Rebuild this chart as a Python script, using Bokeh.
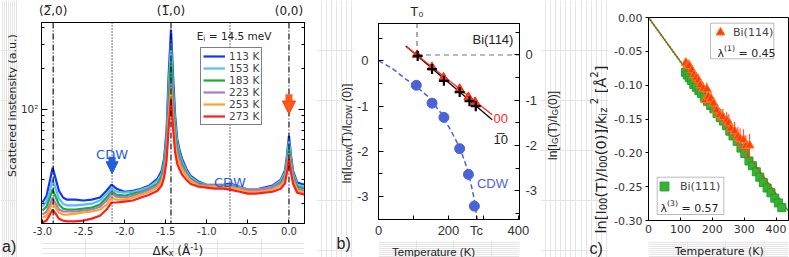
import math
from bokeh.plotting import figure
from bokeh.layouts import row, column
from bokeh.models import (Range1d, LinearAxis, LogAxis, FixedTicker, Label, Legend, LegendItem,
                          Span, Arrow, NormalHead, BoxAnnotation, PrintfTickFormatter)
from bokeh.embed import file_html
from bokeh.resources import INLINE

# ---------------- data: panel a ----------------
DK = [-3.0, -2.95, -2.91, -2.876, -2.84, -2.8, -2.75, -2.7, -2.6, -2.5, -2.4, -2.3, -2.22, -2.16,
      -2.1, -2.0, -1.9, -1.8, -1.7, -1.6, -1.55, -1.52, -1.49, -1.465, -1.436, -1.41, -1.385,
      -1.36, -1.33, -1.3, -1.25, -1.2, -1.1, -1.0, -0.9, -0.8, -0.72, -0.6, -0.5, -0.4, -0.3,
      -0.2, -0.1, -0.05, -0.025, 0.0, 0.025, 0.05, 0.1, 0.19]
I_113 = [20.4, 22.9, 29.6, 36.8, 30.6, 24.9, 22.2, 21.4, 21.4, 21.1, 21.4, 22.2, 24.9, 27.6,
         25.8, 24.5, 24.9, 25.8, 27.2, 30.6, 35.0, 42.9, 68.9, 174.8, 387.5, 174.8, 88.8,
         60.2, 49.1, 42.9, 36.2, 32.2, 29.1, 27.6, 27.6, 27.6, 28.1, 26.7, 25.4, 25.4, 26.3,
         27.2, 30.1, 35.0, 45.1, 63.3, 45.1, 35.0, 28.6, 27.6]
I_153 = [19.0, 20.7, 24.9, 30.1, 25.8, 21.8, 20.0, 19.4, 19.4, 19.7, 20.0, 21.1, 23.7, 25.8,
         24.5, 24.1, 24.5, 25.4, 26.7, 29.6, 33.3, 40.1, 61.2, 140.3, 300.6, 140.3, 78.9,
         56.2, 46.7, 40.8, 35.0, 31.6, 28.6, 27.6, 27.2, 27.2, 27.6, 26.7, 25.4, 25.4, 25.8,
         26.7, 29.6, 33.8, 42.9, 58.2, 42.9, 33.8, 27.6, 26.7]
I_183 = [17.8, 19.0, 22.2, 25.4, 22.5, 19.7, 18.4, 18.1, 18.1, 18.4, 18.7, 19.7, 22.2, 24.5,
         23.3, 22.9, 23.7, 24.5, 25.8, 28.1, 31.6, 37.5, 55.3, 114.5, 225.4, 114.5, 68.9,
         51.7, 43.6, 38.8, 33.8, 30.6, 28.1, 27.2, 27.2, 27.2, 27.2, 26.3, 24.9, 24.9, 25.4,
         26.3, 28.6, 32.2, 40.1, 50.8, 40.1, 32.2, 26.7, 25.8]
I_223 = [16.6, 17.5, 19.7, 22.2, 20.0, 18.1, 17.5, 17.5, 17.5, 17.8, 18.1, 19.0, 21.1, 23.7,
         22.5, 22.2, 22.9, 24.1, 25.4, 27.2, 30.1, 35.0, 49.1, 93.5, 169.0, 93.5, 60.2,
         47.5, 41.5, 37.5, 33.3, 30.1, 27.6, 27.2, 27.2, 27.2, 27.2, 26.3, 25.4, 25.4, 25.8,
         26.3, 28.1, 31.1, 38.1, 47.5, 38.1, 31.1, 25.8, 24.9]
I_253 = [15.8, 16.3, 18.4, 20.4, 18.7, 17.2, 16.6, 16.6, 16.9, 17.2, 17.5, 18.1, 19.7, 22.2,
         21.4, 21.4, 22.2, 23.3, 24.5, 26.3, 29.1, 33.3, 45.1, 81.6, 140.3, 81.6, 53.5,
         43.6, 38.8, 35.6, 32.2, 29.6, 27.2, 26.7, 26.7, 26.3, 26.3, 25.4, 24.5, 24.5, 24.9,
         25.4, 27.2, 29.6, 35.6, 45.1, 35.6, 29.6, 24.9, 24.1]
I_273 = [14.5, 15.0, 16.6, 18.1, 16.9, 15.5, 15.0, 14.8, 14.8, 15.0, 15.5, 16.3, 18.1, 20.4,
         20.4, 20.7, 21.1, 22.2, 23.3, 24.9, 27.2, 31.1, 41.5, 71.3, 120.5, 71.3, 47.5,
         39.4, 35.6, 32.7, 30.1, 28.1, 26.7, 26.3, 25.8, 25.8, 25.4, 24.5, 23.7, 23.7, 24.1,
         24.5, 25.8, 28.1, 33.8, 42.9, 33.8, 28.1, 24.1, 23.3]
SERIES_A = [I_113, I_153, I_183, I_223, I_253, I_273]
TEMP_LABELS = ["113 K", "153 K", "183 K", "223 K", "253 K", "273 K"]
COLORS_A = ["#1533ff", "#55bff0", "#22a83a", "#a27ccc", "#ffa226", "#ff1e1e"]
BRAGG_K = [-2.87, -1.436, 0.0]
BRAGG_LABELS = ["(2\u0305,0)", "(1\u0305,0)", "(0,0)"]
CDW_K = [-2.153, -0.718]
XTICKS_A = [-3.0, -2.5, -2.0, -1.5, -1.0, -0.5, 0.0]
YTICK_A = [100]
YMINOR_A = [20, 30, 40, 50, 60, 70, 80, 90, 200, 300, 400]

# ---------------- data: panel b ----------------
T_CDW = [108, 153, 187, 232, 257, 274]
LN_CDW = [-0.54, -0.935, -1.25, -1.94, -2.51, -3.21]
T_CDW_FIT = [0, 20, 43, 79, 110, 143, 179, 211, 234, 257, 273, 282]
LN_CDW_FIT = [0.0, -0.08, -0.19, -0.41, -0.58, -0.80, -1.16, -1.60, -1.95, -2.46, -3.03, -3.5]
T_00 = [110, 153, 186, 232, 257, 276]
LN_00 = [0.0, -0.27, -0.50, -0.75, -0.93, -1.04]
T_10 = [112, 153, 187, 232, 260, 278]
LN_10 = [-0.02, -0.31, -0.57, -0.82, -1.02, -1.13]
FIT00_T = [80, 325]
FIT00_LN = [0.18, -1.32]
FIT10_T = [78, 325]
FIT10_LN = [0.20, -1.43]
T0 = 110
TC = 280

# ---------------- data: panel c ----------------
T_111 = [116, 122, 128, 135, 142, 150, 158, 166, 175, 185, 195, 205, 215, 225, 235, 245, 255,
         265, 278, 290, 302, 315, 326, 338, 349, 360, 372, 384, 396, 407, 418]
V_111 = [-0.081, -0.085, -0.089, -0.093, -0.099, -0.103, -0.108, -0.112, -0.118, -0.124, -0.130,
         -0.135, -0.142, -0.148, -0.153, -0.160, -0.168, -0.175, -0.183, -0.193, -0.201, -0.212,
         -0.219, -0.228, -0.236, -0.244, -0.252, -0.259, -0.267, -0.274, -0.281]
T_114 = [117, 124, 128, 136, 143, 150, 157, 162, 172, 178, 183, 188, 196, 204, 214, 223, 233,
         245, 252, 258, 270, 280, 287, 298, 305, 317]
V_114 = [-0.067, -0.070, -0.0715, -0.078, -0.085, -0.089, -0.093, -0.100, -0.105, -0.122, -0.106,
         -0.117, -0.120, -0.127, -0.137, -0.144, -0.147, -0.152, -0.156, -0.164, -0.168, -0.176,
         -0.179, -0.181, -0.190, -0.189]
E_114 = [0.006, 0.007, 0.008, 0.007, 0.008, 0.008, 0.009, 0.008, 0.009, 0.009, 0.010, 0.009,
         0.010, 0.010, 0.010, 0.011, 0.012, 0.012, 0.013, 0.013, 0.014, 0.014, 0.015, 0.016,
         0.016, 0.017]
FIT111_T = [0, 437]
FIT111_V = [0.0, -0.285]
FIT114_T = [0, 402]
FIT114_V = [0.0, -0.2626]
XTICKS_C = [0, 100, 200, 300, 400]
YTICKS_C = [0.0, -0.05, -0.10, -0.15, -0.20, -0.25, -0.30]

# ---------------- geometry (window pixels) ----------------
GEOM = {
    "a": dict(L=38, R=304, T=21, B=223, x=(-3.012, 0.189), y=(14.27, 436.1), log=True),
    "b": dict(L=375, R=521, T=21, B=222, x=(0.0, 403.0), y=(-3.506, 0.825), log=False),
    "c": dict(L=648, R=788, T=17, B=220, x=(0.0, 439.0), y=(-0.30, 0.0), log=False),
}
RIGHT_B = (-3.635, 0.696)


def to_data(key, px, py):
    g = GEOM[key]
    (x0, x1), (y0, y1) = g["x"], g["y"]
    x = x0 + (px - g["L"]) / (g["R"] - g["L"]) * (x1 - x0)
    f = (g["B"] - py) / (g["B"] - g["T"])
    if g["log"]:
        y = 10 ** (math.log10(y0) + f * (math.log10(y1) - math.log10(y0)))
    else:
        y = y0 + f * (y1 - y0)
    return x, y


DJ = {' ': .318, '(': .390, ')': .390, '[': .390, ']': .390, '/': .337, '.': .318, ',': .318,
      '-': .361, '=': .838, 'A': .684, 'B': .686, 'C': .698, 'D': .770, 'E': .632, 'G': .775,
      'I': .295, 'K': .656, 'S': .635, 'T': .611, 'V': .684, 'W': .989, 'Å': .684, 'Δ': .684,
      'λ': .592, 'a': .613, 'c': .550, 'd': .635, 'e': .615, 'i': .278, 'k': .579, 'l': .278,
      'm': .974, 'n': .634, 'p': .635, 'r': .411, 's': .521, 't': .392, 'u': .634, 'x': .592,
      'y': .592, 'z': .525, '\u0305': 0.0}
AR = {' ': .278, '(': .333, ')': .333, '[': .278, ']': .278, '/': .278, '.': .278, '-': .333,
      '=': .584, 'B': .667, 'C': .722, 'D': .722, 'G': .778, 'I': .278, 'K': .667, 'T': .611,
      'W': .944, 'a': .556, 'b': .556, 'c': .5, 'e': .556, 'i': .222, 'l': .222, 'm': .833,
      'n': .556, 'p': .556, 'r': .333, 't': .278, 'u': .556, '\u0305': 0.0}


def rich(p, x, y, segs, size, font="DejaVu Sans", color="#222222", vertical=False,
         align="center", sub=0.2, sup=0.42):
    table, dflt, dig = (DJ, 0.6, 0.636) if font.startswith("DejaVu") else (AR, 0.556, 0.556)

    def fs(kind):
        return size * 0.7 if kind in ("sub", "sup") else size

    def w_of(t, k):
        return sum(table.get(c, dig if c.isdigit() else dflt) for c in t) * fs(k)

    widths = [w_of(t, k) for t, k in segs]
    total = sum(widths)
    d = {"left": 0.0, "center": -total / 2, "right": -total}[align]
    for (t, k), w in zip(segs, widths):
        body = t.strip(" ")
        lead = w_of(t[:len(t) - len(t.lstrip(" "))], k)
        shift = sub * size if k == "sub" else (-sup * size if k == "sup" else 0.0)
        dd = d + lead
        if vertical:
            xo, yo = shift, dd
        else:
            xo, yo = dd, -shift
        if body:
            p.add_layout(Label(x=x, y=y, x_offset=xo, y_offset=yo, text=body, text_font=font,
                               text_font_size=f"{fs(k):.1f}px", text_color=color,
                               text_align="left", text_baseline="alphabetic",
                               angle=math.pi / 2 if vertical else 0.0))
        d += w


def rich_px(p, key, px, py, segs, size, **kw):
    x, y = to_data(key, px, py)
    rich(p, x, y, segs, size, **kw)


def base_fig(key, width, height, borders):
    g = GEOM[key]
    p = figure(width=width, height=height, x_range=Range1d(*g["x"]), y_range=Range1d(*g["y"]),
               y_axis_type="log" if g["log"] else "linear", output_backend="svg",
               toolbar_location=None, min_border_left=borders[0], min_border_right=borders[1],
               min_border_top=borders[2], min_border_bottom=borders[3])
    p.grid.visible = False
    p.outline_line_color = "black"
    p.outline_line_alpha = 1.0
    p.outline_line_width = 1
    p.background_fill_color = "white"
    p.border_fill_color = "white"
    return p


def strip(w, h):
    # text-only strip: its frame is the whole strip, coordinates are pixels from its top-left
    s = figure(width=w, height=h, x_range=Range1d(0, w), y_range=Range1d(h, 0),
               output_backend="svg", toolbar_location=None, min_border=0,
               x_axis_location=None, y_axis_location=None)
    s.outline_line_color = None
    s.background_fill_color = "white"
    s.border_fill_color = "white"
    return s


def style_axis(ax, font, size, standoff, tin=4, tout=0, color="#333333", minor=3):
    ax.major_label_text_font = font
    ax.major_label_text_font_size = f"{size}px"
    ax.major_label_text_color = color
    ax.major_label_standoff = standoff
    ax.major_tick_in = tin
    ax.major_tick_out = tout
    ax.minor_tick_in = minor if tout == 0 else 0
    ax.minor_tick_out = 0 if tout == 0 else minor
    ax.axis_line_color = "black"
    ax.major_tick_line_color = "black"
    ax.minor_tick_line_color = "black"
    ax.axis_label = None


# ======================= panel a =======================
pa = base_fig("a", 299, 238, (21, 12, 21, 15))
ax = pa.xaxis[0]
ax.ticker = FixedTicker(ticks=XTICKS_A)
ax.formatter = PrintfTickFormatter(format="%.1f")
style_axis(ax, "DejaVu Sans", 10, 3)
ay = pa.yaxis[0]
ay.ticker = FixedTicker(ticks=YTICK_A, minor_ticks=YMINOR_A)
ay.major_label_overrides = {100: "10²"}
style_axis(ay, "DejaVu Sans", 10.5, 3, tin=6)
ar = LogAxis(ticker=FixedTicker(ticks=YTICK_A, minor_ticks=YMINOR_A))
style_axis(ar, "DejaVu Sans", 11, 2, tin=6)
ar.major_label_text_font_size = "0px"
ar.major_label_text_color = None
pa.add_layout(ar, "right")
at = LinearAxis(ticker=FixedTicker(ticks=BRAGG_K),
                major_label_overrides={k: lab for k, lab in zip(BRAGG_K, BRAGG_LABELS)})
style_axis(at, "DejaVu Sans", 12, 5, tin=0, color="#222222", minor=0)
pa.add_layout(at, "above")

renderers = []
for vals, col in zip(SERIES_A, COLORS_A):
    renderers.append(pa.line(DK, vals, line_color=col, line_width=2.2))

for k in BRAGG_K:
    pa.add_layout(Span(location=k, dimension="height", line_color="black",
                       line_dash="6 2 1 2", line_width=1.1))
for k in CDW_K:
    pa.add_layout(Span(location=k, dimension="height", line_color="black",
                       line_dash="1 2", line_width=1.1))

leg = Legend(items=[LegendItem(label=l, renderers=[r]) for l, r in zip(TEMP_LABELS, renderers)],
             location=(159, 98), label_text_font="DejaVu Sans", label_text_font_size="10.5px",
             glyph_width=22, glyph_height=12, label_height=12, label_standoff=4, spacing=0,
             padding=2, margin=0, border_line_color="black", border_line_width=1,
             background_fill_color="white", background_fill_alpha=1.0)
pa.add_layout(leg)

rich_px(pa, "a", 195, 35, [("E", "n"), ("i", "sub"), (" = 14.5 meV", "n")], 10.5, align="left")

cdw_col = "#1f5fd9"
rich(pa, CDW_K[0], to_data("a", 0, 154)[1], [("CDW", "n")], 13, color=cdw_col)
rich(pa, CDW_K[1], to_data("a", 0, 182)[1], [("CDW", "n")], 13, color=cdw_col)
pa.add_layout(Arrow(end=NormalHead(size=12, fill_color=cdw_col, line_color=cdw_col),
                    x_start=CDW_K[0], y_start=to_data("a", 0, 156)[1],
                    x_end=CDW_K[0], y_end=to_data("a", 0, 173)[1],
                    line_color=cdw_col, line_width=7))
org = "#ff5a1a"
pa.add_layout(Arrow(end=NormalHead(size=13, fill_color=org, line_color="#ff3a00"),
                    x_start=BRAGG_K[2], y_start=to_data("a", 0, 93)[1],
                    x_end=BRAGG_K[2], y_end=to_data("a", 0, 113)[1],
                    line_color=org, line_width=7))

sAL = strip(17, 257)
rich(sAL, 11.5, 105, [("Scattered instensity (a.u.)", "n")], 11, vertical=True)
rich(sAL, 1.5, 246, [("a)", "n")], 16, font="Liberation Sans", align="left")
sAB = strip(299, 19)
rich(sAB, 155, 12.5, [("ΔK", "n"), ("x", "sub"), (" (Å", "n"), ("-1", "sup"), (")", "n")], 12,
     sup=0.36)

# ======================= panel b =======================
pb = base_fig("b", 187, 240, (22, 19, 21, 18))
pb.extra_y_ranges = {"right": Range1d(*RIGHT_B)}
bx = pb.xaxis[0]
bx.ticker = FixedTicker(ticks=[0, 200, TC, 400], minor_ticks=[100, 300])
bx.formatter = PrintfTickFormatter(format="%d")
bx.major_label_overrides = {TC: "Tc"}
style_axis(bx, "Liberation Sans", 13, 3, tin=4, minor=4)
by = pb.yaxis[0]
by.ticker = FixedTicker(ticks=[0, -1, -2, -3], minor_ticks=[0.5, -0.5, -1.5, -2.5])
by.formatter = PrintfTickFormatter(format="%d")
style_axis(by, "Liberation Sans", 13, 10, tin=5, minor=4)
bry = LinearAxis(y_range_name="right",
                 ticker=FixedTicker(ticks=[0, -1, -2, -3], minor_ticks=[0.5, -0.5, -1.5, -2.5, -3.5]),
                 formatter=PrintfTickFormatter(format="%d"))
style_axis(bry, "Liberation Sans", 13, 6, tin=5, minor=4)
pb.add_layout(bry, "right")
bt = LinearAxis(ticker=FixedTicker(ticks=[T0]), major_label_overrides={T0: "T₀"})
style_axis(bt, "Liberation Sans", 13, 5, tin=0, color="#222222", minor=0)
pb.add_layout(bt, "above")

gray = "#777777"
pb.line([T0, T0], [0.0, RIGHT_B[1]], y_range_name="right", line_color=gray, line_dash="5 4", line_width=1.2)
pb.line([T0, GEOM["b"]["x"][1]], [0.0, 0.0], y_range_name="right", line_color=gray, line_dash="5 4", line_width=1.2)

blue_b = "#4a63d8"
pb.line(T_CDW_FIT, LN_CDW_FIT, line_color=blue_b, line_dash="5 3", line_width=1.5)
pb.scatter(T_CDW, LN_CDW, size=10, fill_color=blue_b, line_color=blue_b)

pb.line(FIT10_T, FIT10_LN, y_range_name="right", line_color="black", line_width=1.3)
pb.line(FIT00_T, FIT00_LN, y_range_name="right", line_color="#ff2a1a", line_width=1.3)
pb.scatter(T_00, LN_00, y_range_name="right", marker="triangle", size=9,
           fill_color="#ff3a1a", line_color="#ff2000")
pb.scatter(T_10, LN_10, y_range_name="right", marker="cross", size=10,
           line_color="black", line_width=2.2)

rich_px(pb, "b", 494, 37, [("Bi(114)", "n")], 13, font="Liberation Sans")
rich_px(pb, "b", 494, 118, [("00", "n")], 13, font="Liberation Sans", color="#ff2a1a", align="left")
rich_px(pb, "b", 494, 140, [("1\u03050", "n")], 13, font="Liberation Sans", align="left")
rich_px(pb, "b", 493, 185, [("CDW", "n")], 13, font="Liberation Sans", color=blue_b)

sBL = strip(37, 257)
rich(sBL, 30.5, 133, [("ln[I", "n"), ("CDW", "sub"), ("(T)/I", "n"), ("CDW", "sub"),
                      (" (0)]", "n")], 12, font="Liberation Sans", vertical=True)
rich(sBL, 20, 243, [("b)", "n")], 16, font="Liberation Sans", align="left")
sBB = strip(187, 17)
rich(sBB, 74, 11, [("Temperature (K)", "n")], 11.5, font="Liberation Sans")
sBR = strip(36, 257)
rich(sBR, 12, 125, [("ln[I", "n"), ("G", "sub"), ("(T)/I", "n"), ("G", "sub"),
                    ("(0)]", "n")], 12, font="Liberation Sans", vertical=True)

# ======================= panel c =======================
pc = base_fig("c", 181, 240, (40, 1, 17, 20))
cx = pc.xaxis[0]
cx.ticker = FixedTicker(ticks=XTICKS_C)
cx.formatter = PrintfTickFormatter(format="%d")
style_axis(cx, "DejaVu Sans", 11, 4, tin=3)
cy = pc.yaxis[0]
cy.ticker = FixedTicker(ticks=YTICKS_C)
cy.formatter = PrintfTickFormatter(format="%.2f")
style_axis(cy, "DejaVu Sans", 11, 3, tin=0, tout=3)

green = "#33b533"
red_c = "#ff3a1a"
pc.line(FIT111_T, FIT111_V, line_color="#22a022", line_width=1.5)
pc.segment(x0=T_111, y0=[v - 0.004 for v in V_111], x1=T_111, y1=[v + 0.004 for v in V_111],
           line_color="#22a022", line_width=1)
sq = pc.scatter(T_111, V_111, marker="square", size=8, fill_color=green, line_color="#2a9a2a")
pc.line(FIT114_T, FIT114_V, line_color="#ff2a00", line_width=2, line_dash="1 2")
pc.segment(x0=T_114, y0=[v - e for v, e in zip(V_114, E_114)], x1=T_114,
           y1=[v + e for v, e in zip(V_114, E_114)], line_color="#ff5040", line_width=1.2)
tri = pc.scatter(T_114, V_114, marker="triangle", size=9, fill_color=red_c, line_color="#ff7a10")

l1, t1 = to_data("c", 710, 22.7)
r1, b1 = to_data("c", 773.3, 58.3)
pc.add_layout(BoxAnnotation(left=l1, right=r1, top=t1, bottom=b1, fill_color="white",
                            fill_alpha=1.0, line_color="#222222", line_width=1))
l2, t2 = to_data("c", 656.7, 176.7)
r2, b2 = to_data("c", 723.3, 214)
pc.add_layout(BoxAnnotation(left=l2, right=r2, top=t2, bottom=b2, fill_color="white",
                            fill_alpha=1.0, line_color="#222222", line_width=1))
pc.add_layout(Legend(items=[LegendItem(label="Bi(114)", renderers=[tri])], location=(61, 177),
                     label_text_font="DejaVu Sans", label_text_font_size="11px", glyph_width=22,
                     glyph_height=22, label_standoff=2, padding=0, margin=0,
                     border_line_color=None, background_fill_alpha=0.0))
pc.add_layout(Legend(items=[LegendItem(label="Bi(111)", renderers=[sq])], location=(5, 23),
                     label_text_font="DejaVu Sans", label_text_font_size="11px", glyph_width=22,
                     glyph_height=22, label_standoff=5, padding=0, margin=0,
                     border_line_color=None, background_fill_alpha=0.0))
rich_px(pc, "c", 717, 53, [("λ", "n"), ("(1)", "sup"), (" = 0.45", "n")], 11, align="left")
rich_px(pc, "c", 660, 208, [("λ", "n"), ("(3)", "sup"), (" = 0.57", "n")], 11, align="left")

sCL = strip(32, 257)
rich(sCL, 24, 149, [("ln[I", "n"), ("00", "sub"), ("(T)/I", "n"), ("00", "sub"),
                    ("(0)]/k", "n"), ("iz", "sub"), (" 2", "sup"), (" [Å", "n"),
                    ("2", "sup"), ("]", "n")], 14.5, vertical=True)
rich(sCL, 13, 248, [("c)", "n")], 16, font="Liberation Sans", align="left")
sCB = strip(181, 17)
rich(sCB, 93, 11, [("Temperature (K)", "n")], 11)

layout = row(row(sAL, column(pa, sAB)),
             row(sBL, column(pb, sBB), sBR),
             row(sCL, column(pc, sCB)))
open("out.html", "w").write(file_html(layout, INLINE, "figure"))
